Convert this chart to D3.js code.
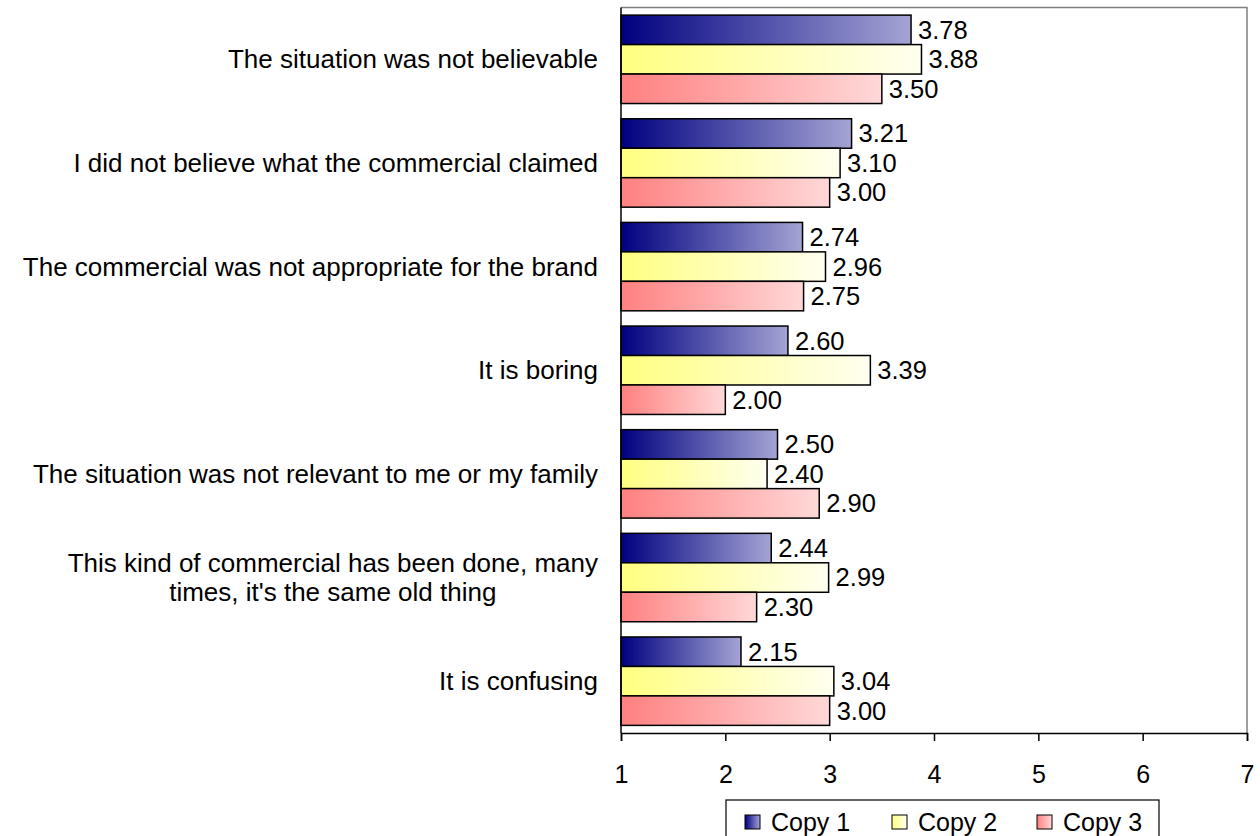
<!DOCTYPE html>
<html>
<head>
<meta charset="utf-8">
<script src="https://cdn.jsdelivr.net/npm/d3@7"></script>
<style>
  body { margin: 0; background: #fff; }
  text { font-family: "Liberation Sans", Arial, sans-serif; fill: #000; }
</style>
</head>
<body>
<div id="chart"></div>
<script>
// horizontal grouped bars, three copies per statement

// data
var categories = [
  "The situation was not believable",
  "I did not believe what the commercial claimed",
  "The commercial was not appropriate for the brand",
  "It is boring",
  "The situation was not relevant to me or my family",
  "This kind of commercial has been done, many\ntimes, it's the same old thing",
  "It is confusing"
];
var seriesNames = ["Copy 1", "Copy 2", "Copy 3"];
var copy1 = [3.78, 3.21, 2.74, 2.60, 2.50, 2.44, 2.15];
var copy2 = [3.88, 3.10, 2.96, 3.39, 2.40, 2.99, 3.04];
var copy3 = [3.50, 3.00, 2.75, 2.00, 2.90, 2.30, 3.00];
var xTicks = [1, 2, 3, 4, 5, 6, 7];

var seriesValues = [copy1, copy2, copy3];

// gradient colours per series (left -> right)
var gradColors = {
  "Copy 1": ["#000080", "#a4a4d4"],
  "Copy 2": ["#ffff80", "#fffff0"],
  "Copy 3": ["#ff8080", "#ffd8d8"]
};

// dimensions
var width = 1260, height = 836;
var plot = {left: 621, right: 1247, top: 7.5, bottom: 733};

var svg = d3.select("#chart")
  .append("svg")
  .attr("width", width)
  .attr("height", height);

// gradients
var defs = svg.append("defs");
seriesNames.forEach(function(name, i) {
  var g = defs.append("linearGradient")
    .attr("id", "grad" + i)
    .attr("x1", "0%").attr("x2", "100%")
    .attr("y1", "0%").attr("y2", "0%");
  g.append("stop").attr("offset", "0%").attr("stop-color", gradColors[name][0]);
  g.append("stop").attr("offset", "100%").attr("stop-color", gradColors[name][1]);
});

// scales
var x = d3.scaleLinear()
  .domain([1, 7])
  .range([plot.left, plot.right]);

var y = d3.scaleBand()
  .domain(categories)
  .range([plot.top, plot.bottom])
  .paddingInner(0.147)
  .paddingOuter(0.0735);

var ySub = d3.scaleBand()
  .domain(seriesNames)
  .range([0, y.bandwidth()]);

// plot area border (top and right, grey)
svg.append("path")
  .attr("d", "M" + plot.left + "," + plot.top + "H" + plot.right + "V" + plot.bottom)
  .attr("fill", "none")
  .attr("stroke", "#808080")
  .attr("stroke-width", 1.5);

// bars
var rows = categories.map(function(c, i) {
  return seriesNames.map(function(s, j) {
    return {cat: c, series: s, idx: j, value: seriesValues[j][i]};
  });
});

var group = svg.append("g")
  .selectAll("g.cat")
  .data(rows)
  .enter().append("g")
  .attr("class", "cat")
  .attr("transform", function(d, i) { return "translate(0," + y(categories[i]) + ")"; });

group.selectAll("rect")
  .data(function(d) { return d; })
  .enter().append("rect")
  .attr("x", x(1))
  .attr("y", function(d) { return ySub(d.series); })
  .attr("width", function(d) { return x(d.value) - x(1); })
  .attr("height", ySub.bandwidth())
  .attr("fill", function(d) { return "url(#grad" + d.idx + ")"; })
  .attr("stroke", "#000")
  .attr("stroke-width", 1.5);

// value labels
group.selectAll("text.val")
  .data(function(d) { return d; })
  .enter().append("text")
  .attr("class", "val")
  .attr("x", function(d) { return x(d.value) + 7; })
  .attr("y", function(d) { return ySub(d.series) + ySub.bandwidth() / 2; })
  .attr("dy", ".35em")
  .style("font-size", "25.5px")
  .text(function(d) { return d.value.toFixed(2); });

// x axis
var xAxis = svg.append("g")
  .attr("transform", "translate(0," + plot.bottom + ")")
  .call(d3.axisBottom(x).tickValues(xTicks).tickSize(8).tickPadding(24).tickFormat(d3.format("d")));
xAxis.select(".domain").attr("stroke", "#000").attr("stroke-width", 1.5);
xAxis.selectAll(".tick line").attr("stroke", "#000").attr("stroke-width", 1.5);
xAxis.selectAll(".tick text")
  .style("font-size", "25px")
  .style("font-family", "Liberation Sans, Arial, sans-serif")
  .attr("fill", "#000");

// y axis line
svg.append("line")
  .attr("x1", plot.left).attr("x2", plot.left)
  .attr("y1", plot.top).attr("y2", plot.bottom)
  .attr("stroke", "#000")
  .attr("stroke-width", 1.5);

// category labels (right aligned block, lines centred)
var labelRight = plot.left - 23;
categories.forEach(function(c) {
  var lines = c.split("\n");
  var lineH = 29;
  var t = svg.append("text")
    .style("font-size", "26px")
    .attr("text-anchor", "middle");
  lines.forEach(function(line, k) {
    t.append("tspan")
      .attr("x", 0)
      .attr("y", y(c) + y.bandwidth() / 2 + (k - (lines.length - 1) / 2) * lineH)
      .attr("dy", ".35em")
      .text(line);
  });
  var w = t.node().getBBox().width;
  t.selectAll("tspan").attr("x", labelRight - w / 2);
});

// legend
var legendBox = {x: 726, y: 800, w: 433, h: 50};
svg.append("rect")
  .attr("x", legendBox.x).attr("y", legendBox.y)
  .attr("width", legendBox.w).attr("height", legendBox.h)
  .attr("fill", "#fff")
  .attr("stroke", "#000")
  .attr("stroke-width", 1.2);

var legendX = [745, 892, 1037];
var legend = svg.selectAll(".legend")
  .data(seriesNames)
  .enter().append("g")
  .attr("class", "legend")
  .attr("transform", function(d, i) { return "translate(" + legendX[i] + ",815)"; });

legend.append("rect")
  .attr("width", 15)
  .attr("height", 14)
  .attr("fill", function(d, i) { return "url(#grad" + i + ")"; })
  .attr("stroke", "#000")
  .attr("stroke-width", 1);

legend.append("text")
  .attr("x", 26)
  .attr("y", 7)
  .attr("dy", ".35em")
  .style("font-size", "25px")
  .text(function(d) { return d; });
</script>
</body>
</html>
